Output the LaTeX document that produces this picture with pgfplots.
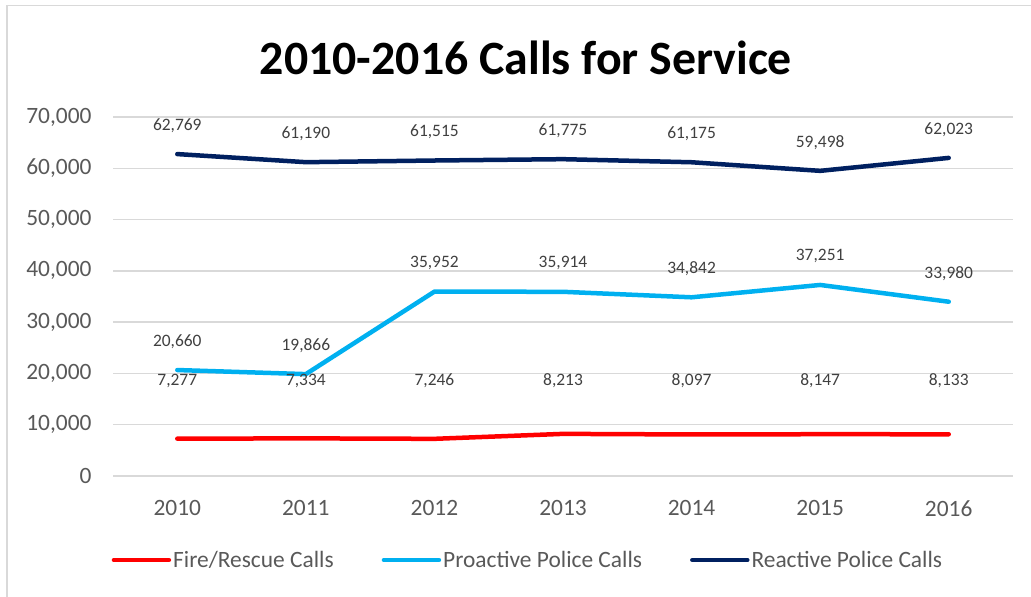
\documentclass[border=0pt]{standalone}
\usepackage{fontspec}
\setmainfont{Carlito}
\usepackage{pgfplots}
\pgfplotsset{compat=1.18}
\definecolor{fireRed}{HTML}{FF0000}
\definecolor{proBlue}{HTML}{00B0F0}
\definecolor{reaNavy}{HTML}{002060}
\definecolor{gridGray}{HTML}{D9D9D9}
\definecolor{txtGray}{HTML}{595959}
\definecolor{lblGray}{HTML}{404040}
\begin{document}
\begin{tikzpicture}[x=1bp,y=1bp]
\path[use as bounding box] (0,0) rectangle (1031,597);
\draw[gridGray, line width=1.5bp] (7,0) -- (7,591.5) -- (1031,591.5);
\node[font=\fontsize{48}{56}\selectfont\bfseries, text=black] at (526bp,539bp) {2010-2016 Calls for Service};
\begin{axis}[
  at={(113bp,121bp)}, anchor=south west,
  width=900bp, height=359bp, scale only axis,
  xmin=-0.5, xmax=6.5, ymin=0, ymax=70000,
  xtick={0,1,2,3,4,5,6},
  xticklabels={2010,2011,2012,2013,2014,2015,2016},
  ytick={0,10000,20000,30000,40000,50000,60000,70000},
  scaled y ticks=false,
  axis line style={draw=none},
  major tick length=0pt,
  ymajorgrids, grid style={gridGray, line width=1.5bp},
  /pgf/number format/1000 sep={,},
  /pgf/number format/assume math mode=true,
  tick label style={font=\fontsize{23.5}{27}\selectfont, text=txtGray},
  xticklabel style={anchor=north, yshift=-21bp},
  yticklabel style={anchor=east, xshift=-18bp},
  every node near coord/.append style={font=\fontsize{17.5}{21}\selectfont, text=lblGray, anchor=center, yshift=28.5bp},
  legend columns=3,
  legend style={at={(0.461,-0.234)}, anchor=center, draw=none, fill=none,
    font=\fontsize{23.5}{27}\selectfont, text=txtGray,
    /tikz/every even column/.append style={column sep=46bp},
    nodes={inner sep=2bp}},
  legend image code/.code={\draw[#1, line cap=round] (0bp,0bp) -- (55bp,0bp);},
]
\addplot[fireRed, line width=4.5bp, line cap=round, line join=round] coordinates {
  (0,7277) (1,7334) (2,7246) (3,8213) (4,8097) (5,8147) (6,8133)};
\addlegendentry{Fire/Rescue Calls}
\addplot[proBlue, line width=4.5bp, line cap=round, line join=round, nodes near coords] coordinates {
  (0,20660) (1,19866) (2,35952) (3,35914) (4,34842) (5,37251) (6,33980)};
\addlegendentry{Proactive Police Calls}
\addplot[reaNavy, line width=4.5bp, line cap=round, line join=round, nodes near coords] coordinates {
  (0,62769) (1,61190) (2,61515) (3,61775) (4,61175) (5,59498) (6,62023)};
\addlegendentry{Reactive Police Calls}
\addplot[draw=none, forget plot, nodes near coords, point meta=explicit] coordinates {
  (0,13000) [7277] (1,13000) [7334] (2,13000) [7246] (3,13000) [8213]
  (4,13000) [8097] (5,13000) [8147] (6,13000) [8133]};
\end{axis}
\end{tikzpicture}
\end{document}
